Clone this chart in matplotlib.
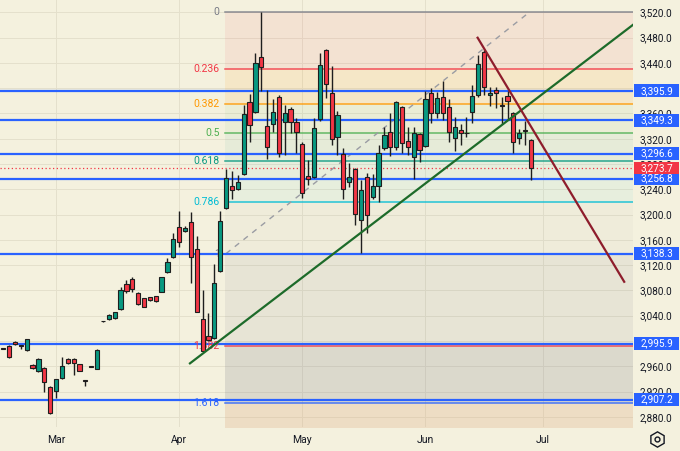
import matplotlib.pyplot as plt
import matplotlib.transforms as mtransforms
from matplotlib.patches import Rectangle
from matplotlib.lines import Line2D
import numpy as np

plt.rcParams['font.family'] = ['Roboto', 'DejaVu Sans']

# daily candles, bar 0 = first visible bar (mid Feb)
opens = [2988.8, 2992.0, 2998.8, 2992.5, 2985.7, 2962.5, 2952.0, 2957.7, 2927.6, 2920.8,
         2941.4, 2971.9, 2971.9, 2963.1, 2938.2, 2959.3, 2956.1, 3031.0, 3034.3, 3035.9,
         3050.1, 3089.7, 3097.6, 3076.4, 3067.5, 3069.1, 3071.1, 3077.9, 3108.6, 3132.4,
         3179.8, 3173.5, 3187.8, 3145.0, 3035.5, 3007.8, 3004.7, 3111.5, 3209.9, 3245.2,
         3240.0, 3264.2, 3377.6, 3361.8, 3449.8, 3340.1, 3342.8, 3386.0, 3346.9, 3367.5,
         3346.9, 3311.6, 3261.0, 3259.4, 3351.2, 3460.4, 3393.1, 3322.2, 3295.3, 3252.3,
         3272.1, 3192.2, 3259.9, 3227.3, 3245.7, 3305.8, 3331.1, 3307.4, 3369.7, 3316.4,
         3291.5, 3327.5, 3309.0, 3391.9, 3361.2, 3386.5, 3369.7, 3320.6, 3333.8, 3329.1,
         3361.8, 3389.2, 3457.7, 3388.7, 3397.1, 3372.6, 3387.6, 3360.2, 3321.6, 3333.8,
         3318.0]
highs = [2989.6, 2993.6, 2999.9, 2993.1, 3003.1, 2963.6, 2973.1, 2958.8, 2928.7, 2939.8,
         2974.6, 2973.1, 2973.1, 2963.6, 2939.0, 2959.6, 2987.3, 3031.5, 3041.9, 3045.8,
         3084.9, 3096.5, 3100.7, 3077.5, 3068.0, 3069.6, 3071.9, 3101.2, 3130.8, 3170.3,
         3205.6, 3181.9, 3203.6, 3166.1, 3080.6, 3043.7, 3121.8, 3205.6, 3271.6, 3269.4,
         3262.6, 3373.4, 3390.3, 3456.1, 3520.0, 3396.6, 3382.4, 3388.7, 3373.4, 3370.2,
         3352.3, 3314.3, 3286.3, 3352.8, 3456.1, 3462.0, 3435.1, 3364.3, 3304.8, 3281.1,
         3273.7, 3254.7, 3266.2, 3263.7, 3310.1, 3339.0, 3360.2, 3380.2, 3371.8, 3337.8,
         3337.8, 3329.1, 3396.0, 3399.8, 3394.4, 3411.3, 3382.4, 3353.9, 3343.3, 3353.9,
         3405.0, 3452.5, 3460.4, 3402.3, 3401.4, 3386.5, 3395.5, 3362.3, 3335.4, 3348.0,
         3319.6]
lows = [2987.3, 2973.1, 2993.6, 2987.3, 2984.1, 2955.6, 2950.9, 2919.7, 2884.4, 2909.7,
        2939.8, 2963.6, 2946.1, 2952.5, 2928.7, 2958.5, 2955.6, 3030.5, 3033.2, 3034.8,
        3049.0, 3075.4, 3077.9, 3056.9, 3053.7, 3064.0, 3061.6, 3077.5, 3107.5, 3131.3,
        3149.1, 3172.4, 3091.2, 3045.8, 2984.1, 2999.9, 3003.1, 3109.1, 3208.8, 3224.1,
        3238.9, 3262.6, 3315.3, 3360.7, 3395.5, 3288.4, 3331.1, 3291.1, 3294.3, 3328.6,
        3297.4, 3225.7, 3246.8, 3257.9, 3348.0, 3384.9, 3310.1, 3294.3, 3225.4, 3244.1,
        3183.5, 3138.7, 3170.3, 3224.1, 3220.3, 3302.2, 3292.7, 3302.2, 3297.9, 3293.5,
        3255.8, 3283.6, 3307.7, 3344.4, 3352.3, 3349.6, 3315.3, 3301.0, 3309.6, 3323.2,
        3344.4, 3386.5, 3389.2, 3371.8, 3368.1, 3342.8, 3349.6, 3296.9, 3311.6, 3310.1,
        3254.7]
closes = [2988.0, 2974.6, 2995.2, 2992.0, 3002.6, 2956.7, 2971.5, 2935.5, 2885.5, 2939.3,
          2960.4, 2964.7, 2964.7, 2953.0, 2937.4, 2958.8, 2986.2, 3031.2, 3041.1, 3045.3,
          3081.1, 3079.0, 3081.7, 3058.5, 3054.2, 3064.8, 3062.7, 3100.7, 3125.4, 3161.3,
          3157.1, 3178.3, 3132.4, 3046.3, 2984.9, 3001.5, 3091.2, 3189.3, 3257.4, 3238.4,
          3252.0, 3359.1, 3341.7, 3439.3, 3433.0, 3306.4, 3362.3, 3296.9, 3360.7, 3346.9,
          3331.1, 3234.6, 3256.3, 3336.5, 3437.4, 3406.1, 3319.2, 3357.1, 3240.1, 3259.9,
          3200.4, 3238.9, 3199.0, 3245.7, 3296.9, 3325.9, 3307.4, 3378.6, 3312.8, 3307.4,
          3329.5, 3301.4, 3382.4, 3361.2, 3384.0, 3360.2, 3331.1, 3339.0, 3328.6, 3328.3,
          3387.6, 3437.7, 3402.3, 3392.3, 3392.8, 3371.8, 3379.7, 3314.8, 3329.1, 3333.0,
          3273.7]

month_pos = [9, 30, 51, 72, 92]
month_labels = ['Mar', 'Apr', 'May', 'Jun', 'Jul']
price_ticks = [2880, 2920, 2960, 3000, 3040, 3080, 3120, 3160, 3200,
               3240, 3280, 3320, 3360, 3400, 3440, 3480, 3520]

levels = [3395.9, 3349.3, 3296.6, 3256.8, 3138.3, 2995.9, 2907.2]
last_price = 3273.7

fib_top = 3520.0
fib_bottom = 3138.3
fib_start = 38
fib_ratios = [0, 0.236, 0.382, 0.5, 0.618, 0.786, 1, 1.382, 1.618, 2.618]
fib_labels = ['0', '0.236', '0.382', '0.5', '0.618', '0.786', '1', '1.382', '1.618']
fib_colors = ['#787b86', '#f23645', '#ff9800', '#4caf50', '#089981',
              '#00bcd4', '#787b86', '#f23645', '#2962ff']
band_colors = [('#f23645', 0.08), ('#ff9800', 0.10), ('#4caf50', 0.06), ('#089981', 0.06),
               ('#00bcd4', 0.05), ('#787b86', 0.04), ('#787b86', 0.10), ('#787b86', 0.20),
               ('#d9a57a', 0.25)]
fib_diag_x = [38, 89.7]

up_x, up_y = [31.84, 107.35], [2964.6, 3499.9]
down_x, down_y = [80.9, 105.9], [3479.8, 3093.7]

BG = '#f4f1de'
UP = '#089981'
DOWN = '#f23645'
BLUE = '#2962ff'

fig = plt.figure(figsize=(6.8, 4.51), dpi=100, facecolor=BG)
ax = fig.add_axes([0, 24 / 451, 633 / 680, 427 / 451])
ax.set_facecolor(BG)
ax.set_xlim(-0.56, 107.4)
ax.set_ylim(2863.9, 3539.5)

for s in ax.spines.values():
    s.set_visible(False)

ax.set_xticks(month_pos)
ax.set_xticklabels(month_labels)
ax.set_yticks(price_ticks)
ax.set_yticklabels([f'{p:,.1f}' for p in price_ticks])
ax.yaxis.tick_right()
ax.tick_params(axis='y', length=0, pad=5, labelsize=7.2, labelcolor='#131722')
ax.tick_params(axis='x', length=0, pad=6, labelsize=7.5, labelcolor='#131722')
ax.set_axisbelow(True)
ax.grid(color='#e4e0cc', lw=0.7)

# fib retracement
rng = fib_top - fib_bottom
fib_prices = [fib_top - r * rng for r in fib_ratios]
x_end = 107.4
for i, (c, a) in enumerate(band_colors):
    ax.fill_between([fib_start - 0.12, x_end], fib_prices[i + 1], fib_prices[i],
                    color=c, alpha=a, lw=0, zorder=1)
for p, c, lab in zip(fib_prices, fib_colors, fib_labels):
    ax.plot([fib_start - 0.12, x_end], [p, p], color=c, lw=1.1, alpha=0.85, zorder=2)
    ax.text(36.9, p, lab, color=c, fontsize=7.5, ha='right', va='center', zorder=3.5)
ax.plot(fib_diag_x, [fib_bottom, fib_top], color='#9a9ca3', lw=1, ls=(0, (4, 4)), zorder=2)

# horizontal levels and last price
for lv in levels:
    ax.axhline(lv, color=BLUE, lw=1.6, zorder=3)
ax.axhline(last_price, color=DOWN, lw=0.9, ls=(0, (1, 2)), zorder=3)

# candles
x = np.arange(len(opens))
o = np.array(opens)
c = np.array(closes)
cols = np.where(c >= o, UP, DOWN)
ax.vlines(x, lows, highs, color='#1e1e1e', lw=1, zorder=4)
body = np.maximum(np.abs(c - o), 0.9)
ax.bar(x, body, bottom=np.minimum(o, c), width=0.72, color=cols,
       edgecolor='#1e1e1e', lw=0.8, zorder=5)

# trend lines
ax.plot(up_x, up_y, color='#1d6b2a', lw=1.6, zorder=6)
ax.plot(down_x, down_y, color='#8e1d2c', lw=1.6, zorder=6)

# price labels on the axis
tr = mtransforms.blended_transform_factory(fig.transFigure, ax.transData)
box_h = 20
for lv in levels:
    ax.add_patch(Rectangle((634 / 680, lv - box_h / 2), 45 / 680, box_h, transform=tr,
                           facecolor=BLUE, edgecolor='none', clip_on=False, zorder=10))
    ax.text(656.5 / 680, lv, f'{lv:,.1f}', transform=tr, color='white', fontsize=7.2,
            ha='center', va='center', clip_on=False, zorder=11)
ax.add_patch(Rectangle((634 / 680, last_price - box_h / 2), 45 / 680, box_h, transform=tr,
                       facecolor=DOWN, edgecolor='none', clip_on=False, zorder=12))
ax.text(656.5 / 680, last_price, f'{last_price:,.1f}', transform=tr, color='white',
        fontsize=7.2, ha='center', va='center', clip_on=False, zorder=13)

# settings icon
fig.add_artist(Line2D([657 / 680], [12 / 451], marker='h', markersize=11, mfc='none',
                      mec='#131722', mew=1, transform=fig.transFigure))
fig.add_artist(Line2D([657 / 680], [12 / 451], marker='o', markersize=3.5, mfc='none',
                      mec='#131722', mew=1, transform=fig.transFigure))

fig.savefig('out.png', dpi=100, facecolor=BG)
